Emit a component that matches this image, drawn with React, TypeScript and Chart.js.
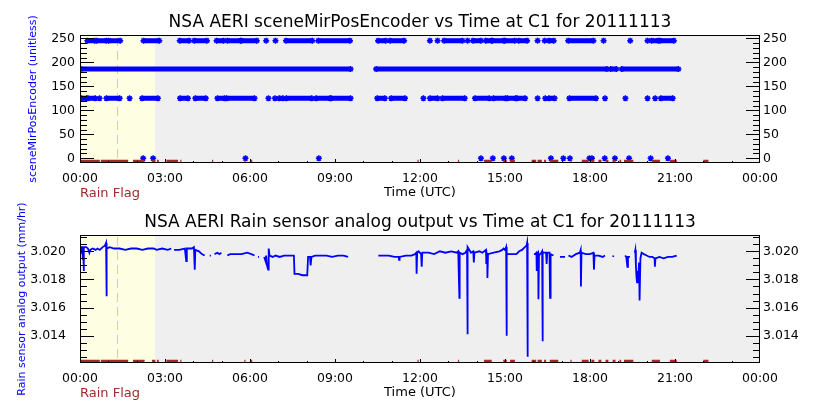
import React, { useEffect, useRef } from 'react';
import { Chart, registerables } from 'chart.js';

Chart.register(...registerables);
Chart.defaults.font.family = 'DejaVu Sans';

// ---------------- data ----------------
const hourTicks = [0, 3, 6, 9, 12, 15, 18, 21, 24];
const hourTickLabels = ['00:00', '03:00', '06:00', '09:00', '12:00', '15:00', '18:00', '21:00', '00:00'];
const hourMinorTicks = [1, 2, 4, 5, 7, 8, 10, 11, 13, 14, 16, 17, 19, 20, 22, 23];

const mirrorTicksMajor = [0, 50, 100, 150, 200, 250];
const mirrorTicksMinor = [10, 20, 30, 40, 60, 70, 80, 90, 110, 120, 130, 140, 160, 170, 180, 190, 210, 220, 230, 240];
const sensorTicksMajor = [3.014, 3.016, 3.018, 3.02];
const sensorTicksMinor = [3.0125, 3.013, 3.0135, 3.0145, 3.015, 3.0155, 3.0165, 3.017, 3.0175, 3.0185, 3.019, 3.0195, 3.0205, 3.021];
const sensorTickLabels = ['3.014', '3.016', '3.018', '3.020'];

const yellowEndHour = 2.65;
const dashedHour = 1.32;

// scene mirror position runs [start hour, end hour]
const mirror245Runs: [number, number][] = [
  [0.26, 0.52], [0.58, 0.93], [1.01, 1.42], [2.24, 2.8], [3.52, 3.85], [4.03, 4.48], [4.82, 5.07],
  [5.2, 5.67], [5.69, 6.24], [6.57, 6.57], [6.9, 6.9], [7.27, 8.2], [8.41, 9.53], [10.52, 10.79],
  [10.94, 11.44], [12.35, 12.35], [12.62, 12.62], [12.85, 13.5], [13.68, 13.68], [13.87, 14.15],
  [14.32, 14.53], [14.54, 14.96], [14.99, 15.35], [15.48, 15.78], [16.15, 16.15], [16.4, 16.4],
  [16.55, 16.72], [17.23, 18.12], [18.48, 18.48], [19.42, 19.42], [20.03, 20.03], [20.17, 20.41],
  [20.47, 20.96],
];
const mirror186Runs: [number, number][] = [
  [0.03, 9.55], [10.45, 18.6], [18.73, 18.93], [19.12, 21.12],
];
const mirror125Runs: [number, number][] = [
  [0.05, 0.24], [0.28, 0.54], [0.69, 0.69], [0.93, 1.4], [1.75, 1.75], [2.19, 2.75], [3.53, 3.81],
  [4.07, 4.44], [4.85, 5.1], [5.17, 6.16], [6.65, 6.65], [6.88, 6.88], [7.03, 7.16], [7.28, 8.18],
  [8.33, 8.82], [8.86, 9.55], [10.49, 10.76], [10.98, 11.47], [12.12, 12.12], [12.35, 12.62],
  [12.79, 13.58], [13.94, 14.45], [14.59, 15.02], [15.08, 15.38], [15.42, 15.71], [16.15, 16.15],
  [16.42, 16.42], [16.55, 16.75], [17.27, 18.21], [18.53, 18.53], [19.25, 19.25], [20.03, 20.03],
  [20.3, 20.3], [20.5, 20.92],
];
const mirror0Times = [2.23, 2.58, 5.84, 8.43, 14.15, 14.57, 14.96, 15.24, 16.62, 17.06, 17.29, 17.98, 18.07, 18.52, 18.88, 19.38, 20.14, 20.75];
const mirrorLevels = { high: 245, mid: 186, low: 125, zero: 0 };

// rain sensor analog output [hour, value] (null = gap)
const sensorSeries: [number, number | null][] = [
  [0.02, 3.0198], [0.04, 3.0203], [0.08, 3.0203], [0.1, 3.0194], [0.11, 3.0202], [0.13, 3.0186], [0.14, 3.0203],
  [0.22, 3.0203], [0.28, 3.0202], [0.33, 3.0199], [0.36, 3.0201], [0.45, 3.0202], [0.55, 3.0201], [0.62, 3.0202],
  [0.7, 3.0201], [0.8, 3.0203], [0.88, 3.0204], [0.92, 3.0206], [0.93, 3.0168], [0.95, 3.0202], [1.05, 3.0203],
  [1.2, 3.0202], [1.4, 3.0202], [1.6, 3.0201], [1.8, 3.0202], [2.0, 3.0202], [2.2, 3.0201], [2.4, 3.0202],
  [2.6, 3.0202], [2.7, 3.0201], [2.9, 3.0202], [3.1, 3.0201], [3.22, 3.0202], [3.27, null],
  [3.32, 3.0201], [3.5, 3.0201], [3.7, 3.0202], [3.75, 3.0193], [3.77, 3.0202], [3.95, 3.0202], [4.02, 3.0203],
  [4.05, 3.0187], [4.07, 3.0201], [4.2, 3.02], [4.3, 3.0198], [4.4, 3.0197], [4.5, null],
  [4.58, 3.0197], [4.62, 3.0197], [4.7, null],
  [4.75, 3.0198], [4.85, 3.0199], [4.92, 3.0198], [4.99, 3.0199], [5.1, null],
  [5.2, 3.0197], [5.3, 3.0198], [5.5, 3.0198], [5.7, 3.0198], [5.9, 3.0199], [6.05, 3.0198], [6.16, 3.0197], [6.2, null],
  [6.28, 3.0196], [6.32, 3.0196], [6.4, null],
  [6.5, 3.0196], [6.55, 3.0193], [6.57, 3.0197], [6.6, 3.019], [6.64, 3.0187], [6.66, 3.0202], [6.69, 3.0197],
  [6.8, 3.0196], [6.9, 3.0197], [7.05, 3.0196], [7.2, 3.0197], [7.35, 3.0197], [7.55, 3.0197], [7.57, 3.0184],
  [7.7, 3.0184], [7.85, 3.0183], [8.02, 3.0183], [8.05, 3.0196], [8.12, 3.0196], [8.14, 3.019], [8.17, 3.0196],
  [8.3, 3.0197], [8.5, 3.0197], [8.7, 3.0197], [8.9, 3.0196], [9.1, 3.0197], [9.3, 3.0197], [9.46, 3.0196], [10.0, null],
  [10.53, 3.0197], [10.7, 3.0197], [10.9, 3.0197], [11.1, 3.0196], [11.25, 3.0196], [11.26, 3.0194], [11.28, 3.0196],
  [11.5, 3.0197], [11.7, 3.0197], [11.82, 3.0198], [11.87, 3.0199], [11.88, 3.0184], [11.9, 3.0199], [11.95, 3.02],
  [12.04, 3.0198], [12.06, 3.0189], [12.08, 3.0199], [12.3, 3.0199], [12.5, 3.0198], [12.7, 3.02], [12.9, 3.0199],
  [13.1, 3.02], [13.3, 3.0199], [13.35, 3.02], [13.37, 3.0183], [13.39, 3.0167], [13.4, 3.0199], [13.5, 3.0198],
  [13.6, 3.0199], [13.66, 3.0201], [13.67, 3.0141], [13.69, 3.0203], [13.8, 3.0199], [13.88, 3.02], [13.9, 3.0192],
  [13.92, 3.0199], [14.1, 3.02], [14.2, 3.0199], [14.33, 3.0201], [14.34, 3.0191], [14.37, 3.0199], [14.38, 3.0181],
  [14.4, 3.0198], [14.6, 3.0199], [14.8, 3.02], [14.9, 3.0201], [14.95, 3.0202], [15.0, 3.0201], [15.04, 3.0203],
  [15.05, 3.014], [15.07, 3.0198], [15.2, 3.0198], [15.4, 3.0198], [15.5, 3.02], [15.6, 3.0201], [15.7, 3.0203],
  [15.76, 3.0204], [15.78, 3.0206], [15.79, 3.0125], [15.81, 3.0205], [15.9, null],
  [16.02, 3.0198], [16.06, 3.0198], [16.11, 3.0199], [16.12, 3.0186], [16.14, 3.0198], [16.17, 3.0199], [16.18, 3.0166],
  [16.2, 3.0197], [16.28, 3.0199], [16.31, 3.02], [16.32, 3.0136], [16.34, 3.0199], [16.45, 3.0199], [16.47, 3.0191],
  [16.49, 3.0199], [16.57, 3.0199], [16.59, 3.0167], [16.61, 3.0198], [16.71, 3.0197], [16.8, null],
  [16.94, 3.0196], [17.12, 3.0196], [17.2, null],
  [17.24, 3.0197], [17.35, 3.0196], [17.5, 3.0198], [17.64, 3.0199], [17.67, 3.0201], [17.68, 3.0175], [17.7, 3.0199],
  [17.85, 3.0198], [18.0, 3.0198], [18.12, 3.0199], [18.14, 3.0187], [18.16, 3.0197], [18.3, 3.0197], [18.45, 3.0196],
  [18.53, 3.0197], [18.7, null],
  [18.81, 3.0196], [18.83, 3.0197], [19.0, null],
  [19.24, 3.0197], [19.28, 3.0196], [19.32, 3.0189], [19.34, 3.0196], [19.41, 3.0196], [19.5, null],
  [19.58, 3.0199], [19.6, 3.0201], [19.62, 3.019], [19.64, 3.0182], [19.66, 3.0178], [19.68, 3.0186], [19.7, 3.018],
  [19.73, 3.0192], [19.74, 3.0176], [19.76, 3.0165], [19.78, 3.0195], [19.82, 3.0199], [19.9, 3.0198], [20.0, 3.0197],
  [20.1, 3.0196], [20.2, 3.0196], [20.28, 3.0195], [20.29, 3.0189], [20.31, 3.0195], [20.45, 3.0196], [20.6, 3.0195],
  [20.75, 3.0196], [20.9, 3.0196], [21.06, 3.0197],
];

// rain flag runs [start hour, end hour]
const rainFlagRuns: [number, number][] = [
  [0.03, 0.7], [0.74, 1.7], [1.87, 2.28], [2.54, 2.66], [2.72, 2.78], [3.05, 3.46], [3.54, 3.58], [4.66, 4.7],
  [5.8, 5.84], [6.04, 6.08], [11.91, 11.95], [13.34, 13.38], [14.26, 14.53], [14.94, 15.06], [15.18, 15.35],
  [15.94, 16.1], [16.15, 16.3], [16.38, 16.45], [16.58, 16.88], [17.31, 17.35], [17.71, 17.95], [18.05, 18.15],
  [18.3, 18.4], [18.55, 18.65], [18.8, 18.9], [19.04, 19.1], [19.2, 19.53], [20.18, 20.47], [20.82, 21.06],
  [22.0, 22.18],
];

// ---------------- styles ----------------
const BLUE = '#0000ff';
const RAIN = '#a52a2a';
const PLOT_BG = '#efefef';
const YELLOW_BG = '#fefee2';
const DASH_COLOR = '#e6e600';
const AXIS = '#000000';

function runsToPoints(runs: [number, number][], level: number) {
  const pts: { x: number; y: number | null }[] = [];
  runs.forEach(([a, b], i) => {
    pts.push({ x: a, y: level });
    if (b !== a) pts.push({ x: b, y: level });
    if (i < runs.length - 1) pts.push({ x: (b + runs[i + 1][0]) / 2, y: null });
  });
  return pts;
}

type DecoCfg = { yMajor: number[]; yMinor: number[]; label: string };

function drawFrame(chart: any, cfg: DecoCfg) {
  const { ctx, chartArea: a, scales } = chart;
  const x = scales.x;
  const y = scales.y;
  const L = Math.round(a.left);
  const R = Math.round(a.right);
  const T = Math.round(a.top);
  const B = Math.round(a.bottom);
  ctx.save();
  ctx.fillStyle = AXIS;
  ctx.fillRect(L, T, R - L, 1);
  ctx.fillRect(L, B - 1, R - L, 1);
  ctx.fillRect(L, T, 1, B - T);
  ctx.fillRect(R - 1, T, 1, B - T);
  const tick = (vals: number[], len: number) => {
    vals.forEach((v) => {
      const py = Math.round(y.getPixelForValue(v));
      if (py < T || py > B) return;
      ctx.fillRect(L, py, len, 1);
      ctx.fillRect(R - len, py, len, 1);
    });
  };
  tick(cfg.yMajor, 14);
  tick(cfg.yMinor, 7);
  const xt = (vals: number[], len: number) => {
    vals.forEach((v) => {
      const px = Math.min(R - 1, Math.round(x.getPixelForValue(v)));
      ctx.fillRect(px, B - len, 1, len);
    });
  };
  xt(hourTicks, 4);
  xt(hourMinorTicks, 2);
  ctx.restore();
}

function makeDeco(cfg: DecoCfg) {
  return {
    id: 'deco',
    beforeDraw(chart: any) {
      const { ctx, chartArea: a, scales } = chart;
      const x = scales.x;
      ctx.save();
      ctx.fillStyle = PLOT_BG;
      ctx.fillRect(a.left, a.top, a.width, a.height);
      const x0 = x.getPixelForValue(0);
      const x1 = x.getPixelForValue(yellowEndHour);
      ctx.fillStyle = YELLOW_BG;
      ctx.fillRect(x0, a.top, x1 - x0, a.height);
      const xd = Math.round(x.getPixelForValue(dashedHour));
      ctx.fillStyle = DASH_COLOR;
      for (let yy = a.top + 2; yy < a.bottom; yy += 14) {
        ctx.fillRect(xd, yy, 1, Math.min(9, a.bottom - yy));
      }
      ctx.restore();
    },
    afterDraw(chart: any) {
      const { ctx, chartArea: a } = chart;
      drawFrame(chart, cfg);
      ctx.save();
      ctx.fillStyle = RAIN;
      ctx.font = '13px "DejaVu Sans"';
      ctx.textAlign = 'left';
      ctx.textBaseline = 'alphabetic';
      ctx.fillText(cfg.label, a.left, a.bottom + 34);
      ctx.restore();
    },
  };
}

function xScale() {
  return {
    type: 'linear',
    min: 0,
    max: 24,
    afterBuildTicks: (s: any) => {
      s.ticks = hourTicks.map((v) => ({ value: v }));
    },
    afterFit: (s: any) => {
      s.height = 37;
    },
    grid: { display: false, drawTicks: false },
    border: { display: false },
    ticks: {
      autoSkip: false,
      maxRotation: 0,
      padding: 8,
      color: '#000',
      font: { size: 12.5 },
      callback: (_v: any, i: number) => hourTickLabels[i],
    },
    title: {
      display: true,
      text: 'Time (UTC)',
      color: '#000',
      font: { size: 13 },
      padding: { top: 0, bottom: 0 },
    },
  };
}

function rainDataset() {
  return {
    label: 'Rain Flag',
    data: runsToPoints(rainFlagRuns, 1.3),
    yAxisID: 'yr',
    borderColor: RAIN,
    backgroundColor: RAIN,
    borderWidth: 3,
    pointRadius: 0,
    spanGaps: false,
  };
}

function mirrorDataset(pts: any[], showLine: boolean) {
  return {
    data: pts,
    yAxisID: 'y',
    borderColor: BLUE,
    backgroundColor: BLUE,
    borderWidth: 5,
    showLine,
    pointStyle: 'star',
    pointRadius: 3,
    pointBorderWidth: 1.5,
    pointBorderColor: BLUE,
    spanGaps: false,
  };
}

function yScales(yMin: number, yMax: number, major: number[], labels: string[] | null, leftPad: number, title: string, titlePad: number) {
  const base = (pos: string, pad: number) => ({
    position: pos,
    min: yMin,
    max: yMax,
    afterBuildTicks: (s: any) => {
      s.ticks = major.map((v) => ({ value: v }));
    },
    afterFit: (s: any) => {
      s.width = 80;
    },
    grid: { display: false, drawTicks: false },
    border: { display: false },
    ticks: {
      padding: pad,
      color: '#000',
      font: { size: 12.5 },
      callback: (v: any, i: number) => (labels ? labels[i] : String(v)),
    },
  });
  return {
    y: {
      ...base('left', leftPad),
      title: { display: true, text: title, color: BLUE, font: { size: 11 }, padding: { top: titlePad, bottom: 0 } },
    },
    y2: base('right', 3),
    yr: { display: false, min: 0, max: 100 },
  };
}

function topConfig(): any {
  return {
    type: 'line',
    data: {
      datasets: [
        rainDataset(),
        mirrorDataset(runsToPoints(mirror245Runs, mirrorLevels.high), true),
        mirrorDataset(runsToPoints(mirror186Runs, mirrorLevels.mid), true),
        mirrorDataset(runsToPoints(mirror125Runs, mirrorLevels.low), true),
        mirrorDataset(mirror0Times.map((t) => ({ x: t, y: mirrorLevels.zero })), false),
      ],
    },
    options: {
      animation: false,
      responsive: false,
      layout: { padding: { top: 0, bottom: 200, left: 0, right: 0 } },
      plugins: {
        legend: { display: false },
        tooltip: { enabled: false },
        title: {
          display: true,
          text: 'NSA AERI sceneMirPosEncoder vs Time at C1 for 20111113',
          color: '#000',
          font: { size: 17, weight: 'normal', lineHeight: 1.2 },
          padding: { top: 12.6, bottom: 2 },
        },
      },
      scales: {
        x: xScale(),
        ...yScales(-9.8, 256.9, mirrorTicksMajor, null, 5, 'sceneMirPosEncoder (unitless)', 26.4),
      },
    },
    plugins: [makeDeco({ yMajor: mirrorTicksMajor, yMinor: mirrorTicksMinor, label: 'Rain Flag' })],
  };
}

function bottomConfig(): any {
  return {
    type: 'line',
    data: {
      datasets: [
        rainDataset(),
        {
          data: sensorSeries.map(([h, v]) => ({ x: h, y: v })),
          yAxisID: 'y',
          borderColor: BLUE,
          backgroundColor: BLUE,
          borderWidth: 1.8,
          pointRadius: 0,
          spanGaps: false,
        },
      ],
    },
    options: {
      animation: false,
      responsive: false,
      layout: { padding: { top: 200, bottom: 0, left: 0, right: 0 } },
      plugins: {
        legend: { display: false },
        tooltip: { enabled: false },
        title: {
          display: true,
          text: 'NSA AERI Rain sensor analog output vs Time at C1 for 20111113',
          color: '#000',
          font: { size: 17, weight: 'normal', lineHeight: 1.2 },
          padding: { top: 12.6, bottom: 2 },
        },
      },
      scales: {
        x: xScale(),
        ...yScales(3.01206, 3.02116, sensorTicksMajor, sensorTickLabels, 14, 'Rain sensor analog output (mm/hr)', 15.4),
      },
    },
    plugins: [makeDeco({ yMajor: sensorTicksMajor, yMinor: sensorTicksMinor, label: 'Rain Flag' })],
  };
}

export default function App() {
  const topRef = useRef<HTMLCanvasElement>(null);
  const botRef = useRef<HTMLCanvasElement>(null);
  useEffect(() => {
    const c1 = new Chart(topRef.current as HTMLCanvasElement, topConfig());
    const c2 = new Chart(botRef.current as HTMLCanvasElement, bottomConfig());
    return () => {
      c1.destroy();
      c2.destroy();
    };
  }, []);
  const style: React.CSSProperties = { position: 'absolute', left: 0, top: 0, width: 840, height: 400 };
  return (
    <div style={{ position: 'absolute', left: 0, top: 0, width: 840, height: 400, background: '#fff' }}>
      <canvas ref={topRef} width={840} height={400} style={style} />
      <canvas ref={botRef} width={840} height={400} style={style} />
    </div>
  );
}
